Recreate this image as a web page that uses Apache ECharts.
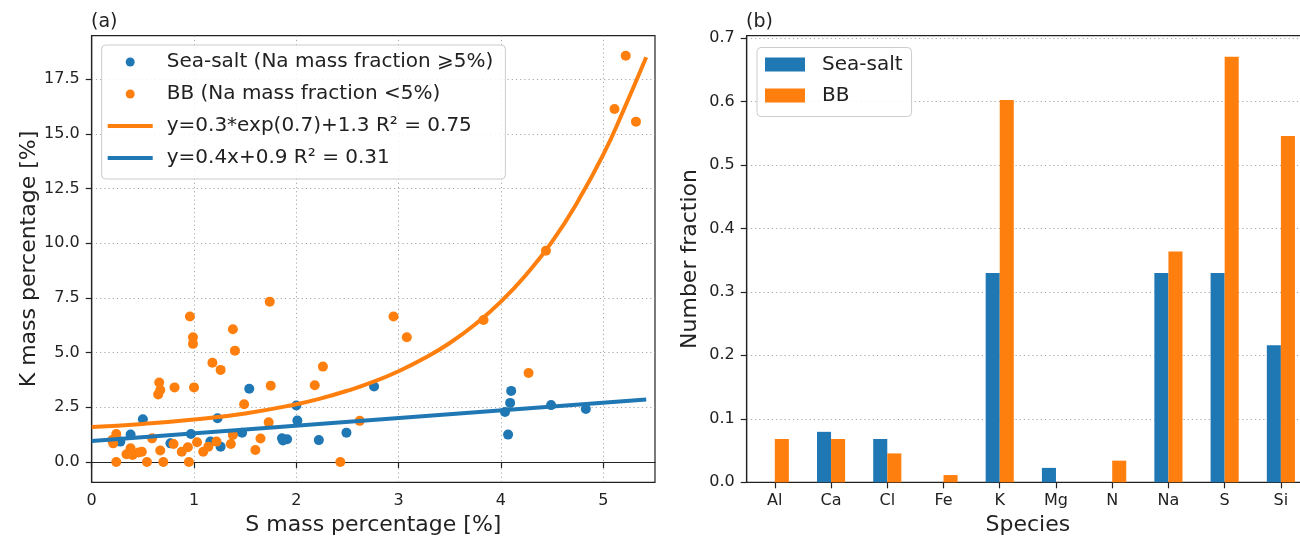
<!DOCTYPE html>
<html><head><meta charset="utf-8">
<script src="https://cdn.jsdelivr.net/npm/echarts@6/dist/echarts.min.js"></script>
<style>html,body{margin:0;padding:0;background:#fff}#c{width:1300px;height:538px}</style>
</head><body><div id="c"></div>
<script>
// ---- Panel (a): scatter data (S mass %, K mass %) ----
const seaSaltS = [1.54,0.50,1.23,2.00,2.01,2.76,2.49,2.22,1.86,1.91,1.87,1.47,1.38,1.26,1.16,0.97,0.77,0.38,0.28,4.04,4.09,4.10,4.07,4.49,4.83];
const seaSaltK = [3.35,1.95,2.00,2.58,1.89,3.45,1.34,1.00,1.08,1.04,0.98,1.34,1.28,0.70,0.93,1.28,0.85,1.25,0.93,2.29,2.70,3.25,1.25,2.60,2.42];
const bbS = [1.74,0.96,0.99,0.99,1.38,1.40,2.95,3.08,1.18,1.26,0.66,0.67,0.65,0.81,1.00,1.75,2.18,2.26,1.49,1.73,2.62,2.43,0.24,0.54,0.70,0.95,0.24,0.20,0.59,0.38,0.34,0.40,0.49,0.67,0.80,0.88,0.94,1.03,1.09,1.14,1.22,1.36,1.38,1.60,1.65,5.22,5.11,5.32,4.44,3.83,4.27,0.21,0.37,0.46];
const bbK = [7.33,6.65,5.70,5.40,6.07,5.09,6.65,5.70,4.54,4.21,3.63,3.29,3.09,3.41,3.41,3.49,3.51,4.36,2.64,1.81,1.88,0.00,0.00,0.00,0.00,0.00,1.28,1.00,1.08,0.63,0.35,0.32,0.47,0.52,0.82,0.47,0.67,0.90,0.47,0.70,0.93,0.82,1.23,0.55,1.07,18.57,16.14,15.56,9.66,6.49,4.07,0.85,0.40,0.43];
// fitted curves
const expFitS = [0,0.5,1,1.5,2,2.25,2.5,2.75,3,3.25,3.5,3.75,4,4.25,4.5,4.75,5,5.2,5.42];
const expFitK = [1.60,1.74,1.94,2.22,2.64,2.92,3.26,3.66,4.15,4.74,5.44,6.3,7.33,8.58,10.07,11.9,14.05,16.1,18.5];
const linFitS = [0,5.42];
const linFitK = [0.96,2.86];
const kTicks = [0,2.5,5,7.5,10,12.5,15,17.5];
const sTicks = [0,1,2,3,4,5];
// ---- Panel (b): number fractions ----
const species = ['Al','Ca','Cl','Fe','K','Mg','N','Na','S','Si'];
const seaSaltFrac = [0,0.0795,0.0682,0,0.3295,0.0227,0,0.3295,0.3295,0.2159];
const bbFrac = [0.0682,0.0682,0.0455,0.0114,0.6023,0,0.0341,0.3636,0.6705,0.5455];
const fracTicks = [0,0.1,0.2,0.3,0.4,0.5,0.6,0.7];

const BLUE='#1f77b4', ORANGE='#ff7f0e', INK='#222', FONT='DejaVu Sans';
const zip=(a,b)=>a.map((v,i)=>[v,b[i]]);
const axisCommon = {
  axisLine:{show:true,lineStyle:{color:INK,width:1.2}},
  axisTick:{show:true,length:6,lineStyle:{color:INK,width:1.2}},
  nameTextStyle:{fontFamily:FONT,fontSize:22,color:INK},
  nameLocation:'middle'
};
const lbl = {fontFamily:FONT,fontSize:16,color:INK};
const grid0={left:91.7,top:35.7,right:645,bottom:55.7,show:true,borderColor:INK,borderWidth:1.2,containLabel:false,outerBoundsMode:'none'};
const grid1={left:746.7,top:35.7,right:-9,bottom:55.7,show:true,borderColor:INK,borderWidth:1.2,containLabel:false,outerBoundsMode:'none'};
const dotted={show:true,lineStyle:{type:[1.2,3],color:'#a8a8a8',width:1}};
const LINE_ICON='path://M0,0H45V4H0Z';

const option={
  animation:false,
  backgroundColor:'#fff',
  textStyle:{fontFamily:FONT},
  title:[
    {text:'(a)',left:91,top:13,padding:0,textStyle:{fontFamily:FONT,fontSize:19,fontWeight:'normal',color:INK}},
    {text:'(b)',left:746,top:13,padding:0,textStyle:{fontFamily:FONT,fontSize:19,fontWeight:'normal',color:INK}}
  ],
  grid:[grid0,grid1],
  xAxis:[
    Object.assign({},axisCommon,{type:'value',gridIndex:0,min:0,max:5.506,
      name:'S mass percentage [%]',nameGap:28,
      axisTick:Object.assign({},axisCommon.axisTick,{customValues:sTicks}),
      axisLabel:Object.assign({},lbl,{customValues:sTicks,margin:11}),
      splitLine:dotted}),
    Object.assign({},axisCommon,{type:'category',gridIndex:1,data:species,
      name:'Species',nameGap:28,
      axisTick:Object.assign({},axisCommon.axisTick,{alignWithLabel:true}),
      axisLabel:Object.assign({},lbl,{margin:11}),
      splitLine:{show:false}})
  ],
  yAxis:[
    Object.assign({},axisCommon,{type:'value',gridIndex:0,min:-0.93,max:19.49,
      name:'K mass percentage [%]',nameGap:50,
      axisTick:Object.assign({},axisCommon.axisTick,{customValues:kTicks}),
      axisLabel:Object.assign({},lbl,{customValues:kTicks,margin:12,formatter:v=>(+v).toFixed(1)}),
      splitLine:dotted}),
    Object.assign({},axisCommon,{type:'value',gridIndex:1,min:0,max:0.7035,
      name:'Number fraction',nameGap:45,
      axisTick:Object.assign({},axisCommon.axisTick,{customValues:fracTicks}),
      axisLabel:Object.assign({},lbl,{customValues:fracTicks,margin:12,formatter:v=>(+v).toFixed(1)}),
      splitLine:dotted})
  ],
  legend:[
    {data:[
       {name:'Sea-salt (Na mass fraction ⩾5%)',icon:'circle'},
       {name:'BB (Na mass fraction <5%)',icon:'circle'},
       {name:'y=0.3*exp(0.7)+1.3 R² = 0.75',icon:LINE_ICON},
       {name:'y=0.4x+0.9 R² = 0.31',icon:LINE_ICON}],
     orient:'vertical',left:101.7,top:45,itemWidth:45,itemHeight:9,itemGap:12,
     textStyle:{fontFamily:FONT,fontSize:20,color:INK,padding:[0,0,0,9]},
     backgroundColor:'rgba(255,255,255,0.85)',borderColor:'#cccccc',borderWidth:1,borderRadius:4,
     padding:[7,12,11,6],selectedMode:false},
    {data:['Sea-salt','BB'],orient:'vertical',left:757,top:47.5,itemWidth:40,itemHeight:14,itemGap:11,icon:'rect',
     textStyle:{fontFamily:FONT,fontSize:20,color:INK,padding:[0,0,0,12]},
     backgroundColor:'rgba(255,255,255,0.85)',borderColor:'#cccccc',borderWidth:1,borderRadius:4,
     padding:[7,9,11,8],selectedMode:false}
  ],
  series:[
    {type:'scatter',name:'Sea-salt (Na mass fraction ⩾5%)',xAxisIndex:0,yAxisIndex:0,data:zip(seaSaltS,seaSaltK),symbolSize:10,itemStyle:{color:BLUE,opacity:1},z:2},
    {type:'scatter',name:'BB (Na mass fraction <5%)',xAxisIndex:0,yAxisIndex:0,data:zip(bbS,bbK),symbolSize:10,itemStyle:{color:ORANGE,opacity:1},z:3},
    {type:'line',name:'y=0.3*exp(0.7)+1.3 R² = 0.75',xAxisIndex:0,yAxisIndex:0,data:zip(expFitS,expFitK),smooth:true,symbol:'none',showSymbol:false,lineStyle:{color:ORANGE,width:4},itemStyle:{color:ORANGE},z:4},
    {type:'line',name:'y=0.4x+0.9 R² = 0.31',xAxisIndex:0,yAxisIndex:0,data:zip(linFitS,linFitK),symbol:'none',showSymbol:false,lineStyle:{color:BLUE,width:4},itemStyle:{color:BLUE},z:5},
    {type:'bar',name:'Sea-salt',xAxisIndex:1,yAxisIndex:1,data:seaSaltFrac,barWidth:'25%',barGap:'0%',itemStyle:{color:BLUE}},
    {type:'bar',name:'BB',xAxisIndex:1,yAxisIndex:1,data:bbFrac,barWidth:'25%',barGap:'0%',itemStyle:{color:ORANGE}}
  ]
};
const chart=echarts.init(document.getElementById('c'),null,{renderer:'canvas'});
chart.setOption(option);
</script></body></html>
